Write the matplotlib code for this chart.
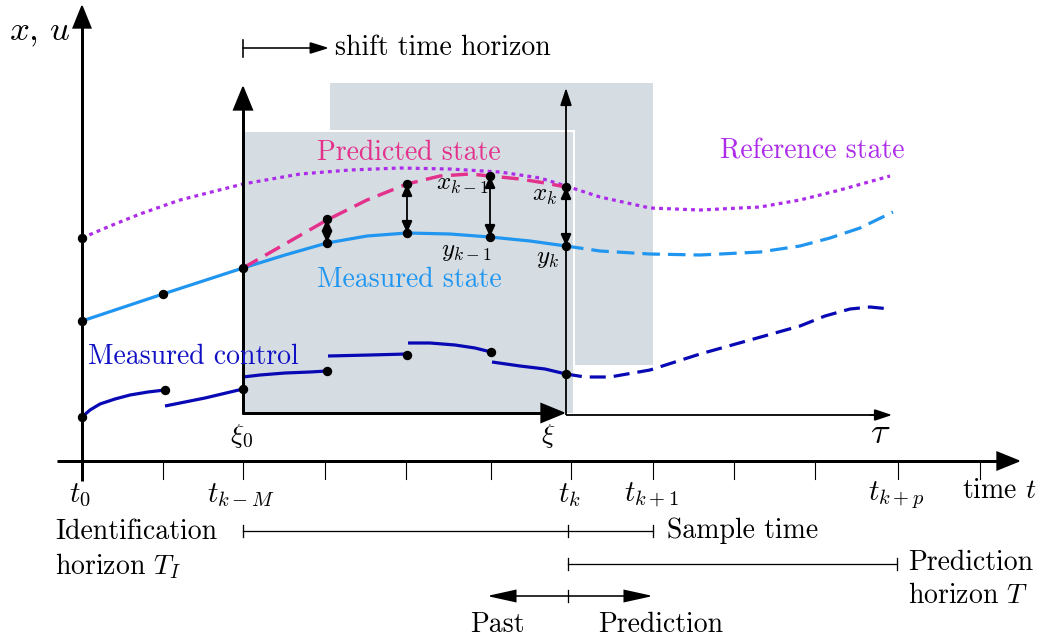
import matplotlib
matplotlib.use("Agg")
import matplotlib.pyplot as plt
from matplotlib.patches import Rectangle, FancyArrowPatch

plt.rcParams["font.family"] = ["cmr10", "DejaVu Serif"]
plt.rcParams["mathtext.fontset"] = "cm"
plt.rcParams["axes.unicode_minus"] = False

# ---- curve samples (canvas pixel coordinates, y grows downward) ----
ref_x = [82, 110, 140, 180, 243, 300, 350, 400, 450, 500, 540, 566, 600, 650, 700, 760, 800, 840, 890]
ref_y = [238, 226, 214, 200, 184, 174, 170, 168, 169, 172, 178, 186, 197, 208, 210, 207, 200, 190, 176]

meas_x = [82, 163, 243, 285, 327, 367, 407, 450, 490, 530, 566]
meas_y = [321, 294, 268, 255, 243, 236, 233, 234, 237, 241, 246]

meas_fut_x = [566, 600, 650, 700, 760, 800, 830, 860, 893]
meas_fut_y = [246, 251, 254, 255, 252, 246, 238, 228, 212]

pred_x = [243, 285, 327, 367, 407, 440, 470, 490, 520, 545, 566]
pred_y = [268, 244, 220, 200, 184, 176, 174, 176, 179, 183, 187]

# piecewise measured control segments
ctrl_segments = [
    ([82, 90, 100, 115, 130, 148, 165], [417, 410, 404, 399, 395, 392, 390]),
    ([165, 205, 243], [406, 398, 389]),
    ([243, 260, 285, 310, 327], [377, 375, 373, 372, 371]),
    ([328, 370, 407], [356, 355, 354]),
    ([408, 430, 455, 475, 491], [343, 343, 345, 348, 352]),
    ([492, 520, 545, 566], [362, 366, 369, 374]),
]
ctrl_fut_x = [566, 585, 610, 650, 700, 750, 800, 825, 850, 870, 890]
ctrl_fut_y = [374, 377, 377, 370, 354, 340, 326, 316, 309, 307, 309]

ctrl_dot_x = [82, 165, 243, 327, 407, 491, 566]
ctrl_dot_y = [417, 390, 389, 371, 355, 352, 374]

meas_dot_x = [82, 163, 243, 327, 407, 490, 566]
meas_dot_y = [321, 294, 268, 243, 233, 237, 246]

pred_dot_x = [327, 407, 490, 566]
pred_dot_y = [219, 184, 176, 187]
ref_dot = (82, 238)

tick_x = [82, 163, 243, 325, 406, 491, 571, 653, 734, 815, 898, 980]
tick_labels = {82: r"$t_0$", 243: r"$t_{k-M}$", 571: r"$t_k$", 653: r"$t_{k+1}$", 898: r"$t_{k+p}$"}

# ---- colours ----
PINK = "#e3318c"
PURPLE = "#ad2cea"
LBLUE = "#2196f0"
DBLUE = "#0808b4"
GRAY = "#d5dce2"

fig = plt.figure(figsize=(10.42, 6.44), dpi=100)
ax = fig.add_axes([0, 0, 1, 1])
ax.set_xlim(0, 1042)
ax.set_ylim(644, 0)
ax.axis("off")

PX = 72 / 100  # points per pixel


def arrow(x0, y0, x1, y1, lw_px, head_len, head_half, style="-|>", z=5, color="black"):
    """Arrow with head sizes given in pixels."""
    a = FancyArrowPatch((x0, y0), (x1, y1),
                        arrowstyle=f"{style},head_length={head_len * PX / 10:.3f},"
                                   f"head_width={head_half * PX / 10:.3f}",
                        mutation_scale=10, lw=lw_px * PX, color=color,
                        shrinkA=0, shrinkB=0, zorder=z, joinstyle="miter")
    ax.add_patch(a)


# shaded horizons
ax.add_patch(Rectangle((330, 83), 323, 282, facecolor=GRAY, edgecolor="none", zorder=1))
ax.add_patch(Rectangle((243, 132), 330, 281, facecolor=GRAY, edgecolor="white",
                       lw=4 * PX, zorder=2))
ax.add_patch(Rectangle((243, 132), 330, 281, facecolor=GRAY, edgecolor="none", zorder=2.1))

# main axes
ax.plot([82, 82], [481, 20], color="black", lw=3 * PX, zorder=6, solid_capstyle="butt")
arrow(82, 30, 82, 4, 2, 21, 8.5, z=6)
ax.plot([57, 1005], [461, 461], color="black", lw=3 * PX, zorder=6, solid_capstyle="butt")
arrow(995, 461, 1021, 461, 2, 21, 8.5, z=6)
for tx in tick_x[1:]:
    ax.plot([tx, tx], [461, 479], color="black", lw=1.1 * PX, zorder=6)

# xi axes (identification window)
ax.plot([243, 243], [414, 100], color="black", lw=3 * PX, zorder=6, solid_capstyle="butt")
arrow(243, 110, 243, 85, 2, 22, 9, z=6)
ax.plot([242, 550], [413, 413], color="black", lw=3 * PX, zorder=6, solid_capstyle="butt")
arrow(540, 413, 566, 413, 2, 22, 9, z=6)

# tau axes (prediction window)
ax.plot([566, 566], [415, 100], color="black", lw=1.8 * PX, zorder=6, solid_capstyle="butt")
arrow(566, 110, 566, 88, 1.5, 15, 5, z=6)
ax.plot([566, 880], [415, 415], color="black", lw=1.8 * PX, zorder=6, solid_capstyle="butt")
arrow(870, 415, 892, 415, 1.5, 15, 5, z=6)

# curves
ax.plot(ref_x, ref_y, color=PURPLE, lw=3.2 * PX, linestyle=(0, (1.2, 1.3)), zorder=3)
ax.plot(meas_x, meas_y, color=LBLUE, lw=3.2 * PX, zorder=3, solid_capstyle="butt")
ax.plot(meas_fut_x, meas_fut_y, color=LBLUE, lw=3.2 * PX, linestyle=(0, (5.5, 2.5)), zorder=3)
ax.plot(pred_x, pred_y, color=PINK, lw=3.4 * PX, linestyle=(0, (5, 2.5)), zorder=3)
for sx, sy in ctrl_segments:
    ax.plot(sx, sy, color=DBLUE, lw=3.2 * PX, zorder=3, solid_capstyle="butt")
ax.plot(ctrl_fut_x, ctrl_fut_y, color=DBLUE, lw=3.2 * PX, linestyle=(0, (5, 2.5)), zorder=3)

# sample points
dot_kw = dict(marker="o", ms=8 * PX, color="black", linestyle="none", zorder=8)
ax.plot(ctrl_dot_x, ctrl_dot_y, **dot_kw)
ax.plot(meas_dot_x, meas_dot_y, **dot_kw)
ax.plot(pred_dot_x, pred_dot_y, **dot_kw)
ax.plot([ref_dot[0]], [ref_dot[1]], **dot_kw)

# errors between predicted and measured state
for px_, py_, my_ in zip(pred_dot_x, pred_dot_y, meas_dot_y[3:]):
    arrow(px_, py_, px_, my_, 1.8, 10, 4.5, style="<|-|>", z=7)

# shift arrow
ax.plot([243, 243], [40, 57], color="black", lw=1.6 * PX, zorder=6)
arrow(243, 48, 329, 48, 1.6, 16, 5, z=6)

# horizon bars
def bar(x0, x1, y, ticks):
    ax.plot([x0, x1], [y, y], color="black", lw=1.3 * PX, zorder=6)
    for t in ticks:
        ax.plot([t, t], [y - 6, y + 6], color="black", lw=1.3 * PX, zorder=6)

bar(243, 653, 531, [243, 568, 653])
bar(568, 897, 564, [568, 897])
arrow(487, 596, 653, 596, 1.6, 25, 5.5, style="<|-|>", z=6)
ax.plot([568, 568], [590, 602], color="black", lw=1.3 * PX, zorder=6)

# text
FS = 20
ax.text(40, 33, r"$x,\,u$", fontsize=25, ha="center", va="center")
ax.text(335, 48, "shift time horizon", fontsize=FS, ha="left", va="center")
ax.text(409, 153, "Predicted state", fontsize=FS, color=PINK, ha="center", va="center", zorder=9)
ax.text(409, 280, "Measured state", fontsize=FS, color=LBLUE, ha="center", va="center", zorder=9)
ax.text(812, 151, "Reference state", fontsize=FS, color=PURPLE, ha="center", va="center", zorder=9)
ax.text(193, 357, "Measured control", fontsize=FS, color="#1010c4", ha="center", va="center", zorder=9)

ax.text(462, 185, r"$x_{k-1}$", fontsize=18, ha="center", va="center", zorder=9)
ax.text(466, 252, r"$y_{k-1}$", fontsize=18, ha="center", va="center", zorder=9)
ax.text(545, 196, r"$x_k$", fontsize=18, ha="center", va="center", zorder=9)
ax.text(548, 259, r"$y_k$", fontsize=18, ha="center", va="center", zorder=9)

ax.text(242, 436, r"$\xi_0$", fontsize=20, ha="center", va="center")
ax.text(548, 436, r"$\xi$", fontsize=20, ha="center", va="center")
ax.text(880, 434, r"$\tau$", fontsize=26, ha="center", va="center")

for tx, lab in tick_labels.items():
    ax.text(tx - 2 if tx != 571 else 569, 495, lab, fontsize=21, ha="center", va="center")
ax.text(962, 491, r"time $t$", fontsize=FS, ha="left", va="center")

ax.text(55, 532, "Identification", fontsize=FS, ha="left", va="center")
ax.text(55, 566, r"horizon $T_I$", fontsize=FS, ha="left", va="center")
ax.text(667, 531, "Sample time", fontsize=FS, ha="left", va="center")
ax.text(908, 563, "Prediction", fontsize=FS, ha="left", va="center")
ax.text(908, 596, r"horizon $T$", fontsize=FS, ha="left", va="center")
ax.text(497, 625, "Past", fontsize=FS, ha="center", va="center")
ax.text(661, 625, "Prediction", fontsize=FS, ha="center", va="center")

fig.savefig("out.png", dpi=100)
